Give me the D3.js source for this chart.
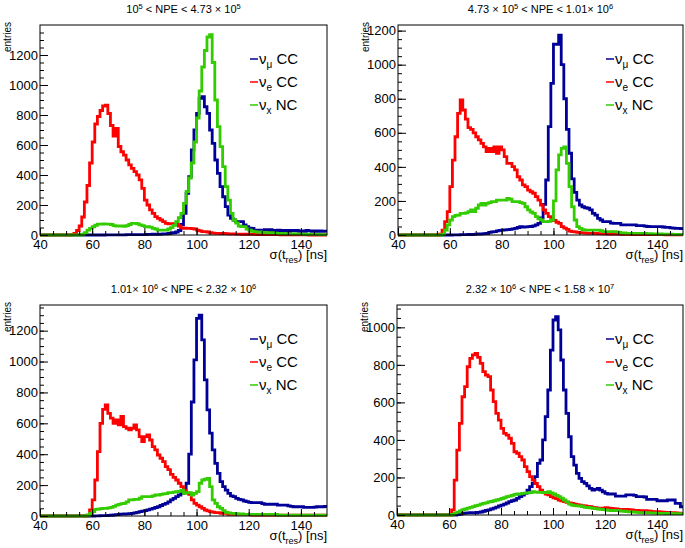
<!DOCTYPE html>
<html>
<head>
<meta charset="UTF-8">
<title>sigma(t_res) per NPE bin</title>
<style>
    body { margin: 0; padding: 0; background: #fff; }
    svg { display: block; font-family: 'Liberation Sans', Arial, Helvetica, sans-serif; }
    .tick line { stroke: #000; stroke-width: 1px; }
    .hist { fill: none; stroke-width: 2.8px; stroke-linejoin: miter; }
</style>
</head>
<body>
<svg></svg>
<script src="https://d3js.org/d3.v7.min.js"></script>
<script>

// histogram bins: 1 ns wide, left edges 40 .. 149
let binStart = 40, binEnd = 150;

// panel titles (^n = superscript)
let titles = [
    "10^5 < NPE < 4.73 × 10^5",
    "4.73 × 10^5 < NPE < 1.01× 10^6",
    "1.01× 10^6 < NPE < 2.32 × 10^6",
    "2.32 × 10^6 < NPE < 1.58 × 10^7"
];
let yMax = [1400, 1233, 1366, 1119];
let xTicks = [40, 60, 80, 100, 120, 140];

let legendNames = [["ν", "μ", " CC"], ["ν", "e", " CC"], ["ν", "x", " NC"]];
let colors = ["#000099", "#ff0000", "#33cc00"];

// panel 1 : 1e5 < NPE < 4.73e5
let numu1 = [
    0,0,0,0,0,0,0,0,0,0,
    0,0,0,0,0,0,0,0,0,0,
    0,0,0,0,0,1,1,1,1,1,
    1,1,1,2,2,2,2,3,3,3,
    3,4,4,5,5,5,6,7,8,10,
    12,15,20,30,70,144,278,389,567,700,
    811,911,922,855,811,700,611,500,411,322,
    255,189,133,111,100,89,89,89,67,56,
    45,44,33,33,33,33,35,30,35,30,
    30,32,28,30,30,25,30,28,30,25,
    28,25,30,28,25,27,25,28,25,26];
let nue1 = [
    0,0,0,0,0,0,0,0,0,0,
    0,0,3,10,30,60,120,220,330,480,
    620,740,790,830,860,865,810,730,660,710,
    590,555,533,500,467,444,422,400,367,311,
    233,200,167,144,122,111,100,89,78,75,
    75,72,70,60,48,45,44,44,42,40,
    33,28,22,22,20,15,12,11,11,10,
    10,9,8,8,7,6,6,5,5,5,
    4,4,4,3,3,3,3,2,2,2,
    2,2,1,1,1,1,1,1,1,1,
    1,1,1,0,0,0,0,0,0,0];
let nc1 = [
    0,0,0,0,0,0,0,0,0,0,
    0,0,0,0,0,0,5,15,33,44,
    55,65,72,73,74,73,72,70,62,60,
    60,60,58,62,70,78,78,75,67,62,
    56,55,52,44,40,33,33,33,33,40,
    49,64,89,115,144,211,290,380,480,620,
    780,960,1120,1230,1320,1335,1150,900,722,589,
    456,322,233,144,100,80,60,56,56,40,
    33,25,22,20,20,18,18,15,15,15,
    12,10,10,10,8,8,8,7,7,6,
    6,5,5,5,4,4,4,3,3,3];

// panel 2 : 4.73e5 < NPE < 1.01e6
let numu2 = [
    0,0,0,0,0,0,0,0,0,0,
    0,0,0,0,0,0,0,0,0,0,
    0,1,1,1,2,2,2,3,3,4,
    5,6,7,8,10,15,18,20,24,27,
    29,30,32,33,36,39,44,49,47,48,
    49,50,53,60,68,100,180,323,636,890,
    1120,1120,1174,1000,800,620,480,330,250,205,
    176,166,160,157,147,127,117,98,88,78,
    78,78,70,68,68,68,59,59,59,59,
    59,59,55,55,55,52,50,49,49,49,
    49,49,47,45,45,42,40,39,39,38];
let nue2 = [
    0,0,0,0,0,0,0,0,0,0,
    0,0,0,0,0,0,5,29,78,137,
    284,440,577,714,793,734,680,630,620,600,
    577,558,538,518,489,509,489,518,480,518,
    500,460,420,420,401,382,342,323,294,284,
    264,254,245,225,205,176,147,127,108,98,
    85,75,68,49,40,33,23,20,18,16,
    14,12,11,10,10,9,9,8,8,7,
    7,6,6,5,5,5,4,4,4,4,
    3,3,3,3,2,2,2,2,2,2,
    2,2,2,1,1,1,1,1,1,1];
let nc2 = [
    0,0,0,0,0,0,0,0,0,0,
    0,0,0,0,0,0,0,5,29,60,
    88,108,115,117,127,127,130,137,147,137,
    157,176,186,176,186,190,196,196,205,205,
    205,205,215,210,196,196,196,190,186,166,
    147,135,127,108,95,88,78,78,80,88,
    200,382,470,509,518,420,284,166,88,49,
    39,32,29,29,29,29,29,29,25,20,
    20,20,20,20,18,15,12,12,10,10,
    10,10,10,10,9,9,8,8,7,7,
    6,6,5,5,5,5,4,4,4,4];

// panel 3 : 1.01e6 < NPE < 2.32e6
let numu3 = [
    0,0,0,0,0,0,0,0,0,0,
    0,0,0,0,0,0,0,0,0,0,
    0,1,1,2,2,3,4,5,7,9,
    11,12,13,14,15,17,20,24,28,32,
    35,40,45,50,55,60,68,75,82,92,
    104,114,125,136,147,168,212,400,738,1011,
    1280,1300,1140,881,687,536,428,341,276,222,
    190,168,147,130,125,114,108,104,97,93,
    88,86,86,86,86,80,76,76,76,76,
    76,71,71,71,71,65,62,60,60,60,
    60,56,56,56,56,58,60,60,60,62];
let nue3 = [
    0,0,0,0,0,0,0,0,0,0,
    0,0,0,0,0,0,0,0,5,39,
    104,233,417,600,690,719,665,633,600,622,
    590,644,579,568,557,568,590,557,514,482,
    514,525,492,449,428,395,374,352,320,300,
    270,250,233,212,190,168,150,140,104,82,
    70,60,50,39,33,28,25,22,22,17,
    17,17,11,11,11,11,11,11,11,11,
    11,6,6,6,6,6,6,6,6,6,
    6,6,6,6,6,6,6,6,6,6,
    6,6,6,6,6,6,6,6,6,6];
let nc3 = [
    0,0,0,0,0,0,0,0,0,0,
    0,0,0,0,0,0,0,0,5,17,
    28,43,45,48,50,50,52,56,62,71,
    75,80,82,92,104,104,108,108,115,125,
    125,125,125,130,136,136,140,143,145,151,
    151,155,158,160,168,147,151,151,136,147,
    158,212,233,238,244,190,104,82,60,50,
    35,24,20,17,17,15,13,13,10,10,
    10,10,10,10,10,10,10,10,10,10,
    10,6,6,6,6,6,6,6,6,6,
    6,6,6,6,6,6,6,6,6,6];

// panel 4 : 2.32e6 < NPE < 1.58e7
let numu4 = [
    0,0,0,0,0,0,0,0,0,0,
    0,0,0,0,0,0,0,0,0,0,
    0,0,0,2,5,9,10,11,12,12,
    12,14,16,20,24,27,32,37,42,48,
    53,58,64,71,76,80,89,98,106,115,
    133,151,169,204,275,293,400,524,666,879,
    1039,1057,986,826,666,542,417,311,266,222,
    195,178,169,155,142,133,137,142,133,124,
    115,112,112,112,101,101,101,101,107,107,
    107,105,98,98,98,96,83,83,83,83,
    76,76,76,76,80,80,80,62,62,44];
let nue4 = [
    0,0,0,0,0,0,0,0,0,0,
    0,0,0,0,0,0,0,0,0,0,
    0,27,186,346,488,630,684,790,835,853,
    861,840,808,764,746,737,666,604,542,506,
    462,435,426,409,382,337,329,311,293,258,
    231,204,186,169,151,133,119,112,107,98,
    92,87,80,75,71,68,65,62,58,55,
    53,50,48,46,44,41,39,37,36,37,
    39,37,35,34,32,30,30,30,30,28,
    27,25,24,23,23,23,22,20,18,18,
    18,17,15,14,14,13,12,11,10,9];
let nc4 = [
    0,0,0,0,0,0,0,0,0,0,
    0,0,0,0,0,0,0,0,0,0,
    0,3,10,15,22,28,32,37,41,45,
    50,53,58,62,65,70,72,76,80,83,
    88,92,98,101,105,110,112,113,115,117,
    118,119,124,122,121,121,120,119,124,118,
    112,105,98,90,80,70,58,53,50,49,
    48,45,41,40,38,36,34,32,30,29,
    27,25,24,24,23,23,21,20,18,17,
    16,15,14,13,13,12,12,11,10,10,
    9,9,9,8,8,8,7,7,7,7];

let hists = [
    [numu1, nue1, nc1],
    [numu2, nue2, nc2],
    [numu3, nue3, nc3],
    [numu4, nue4, nc4]
];

// frames of the four pads
let frames = [
    {x0: 40,  x1: 327, y0: 25,  y1: 235},
    {x0: 398, x1: 683, y0: 25,  y1: 235},
    {x0: 40,  x1: 327, y0: 305, y1: 516},
    {x0: 397, x1: 683, y0: 305, y1: 515}
];

let w = 685, h = 548;
let svg = d3.select("svg").attr("width", w).attr("height", h);
svg.append("rect").attr("width", w).attr("height", h).attr("fill", "#fff");

// text made of tspans (for sub/superscripts)
function richText(sel, parts) {
    parts.forEach(p => {
        let t = sel.append("tspan").text(p.t);
        if (p.dy) t.attr("dy", p.dy);
        if (p.size) t.attr("font-size", p.size);
    });
}

frames.forEach((f, i) => {
    let g = svg.append("g");
    let x = d3.scaleLinear().domain([binStart, binEnd]).range([f.x0, f.x1]);
    let y = d3.scaleLinear().domain([0, yMax[i]]).range([f.y1, f.y0]);

    // histograms (drawn first, frame + ticks on top)
    let line = d3.line()
        .x(d => x(d[0]))
        .y(d => y(d[1]))
        .curve(d3.curveStepAfter);
    [0, 1, 2].forEach(k => {
        let vals = hists[i][k];
        let pts = vals.map((v, j) => [binStart + j, v]);
        pts.push([binEnd, vals[vals.length - 1]]);
        g.append("path")
            .attr("class", "hist")
            .attr("stroke", colors[k])
            .attr("d", line(pts));
    });

    // minor ticks
    g.append("g")
        .attr("transform", `translate(${f.x0},0)`)
        .call(d3.axisLeft(y).tickValues(d3.range(0, yMax[i], 50)).tickSize(-4).tickSizeOuter(0).tickFormat(""))
        .call(a => a.select(".domain").remove());
    g.append("g")
        .attr("transform", `translate(0,${f.y1})`)
        .call(d3.axisBottom(x).tickValues(d3.range(binStart, binEnd, 5)).tickSize(-4).tickSizeOuter(0).tickFormat(""))
        .call(a => a.select(".domain").remove());

    // major ticks + labels
    g.append("g")
        .attr("transform", `translate(${f.x0},0)`)
        .call(d3.axisLeft(y).tickValues(d3.range(0, yMax[i], 200)).tickSize(-8).tickSizeOuter(0).tickPadding(2).tickFormat(d3.format("d")))
        .attr("font-size", 13).attr("font-family", null)
        .call(a => a.select(".domain").remove());
    g.append("g")
        .attr("transform", `translate(0,${f.y1})`)
        .call(d3.axisBottom(x).tickValues(xTicks).tickSize(-7).tickSizeOuter(0).tickPadding(5).tickFormat(d3.format("d")))
        .attr("font-size", 13).attr("font-family", null)
        .call(a => a.select(".domain").remove());

    // frame
    g.append("rect")
        .attr("x", f.x0).attr("y", f.y0)
        .attr("width", f.x1 - f.x0).attr("height", f.y1 - f.y0)
        .attr("fill", "none").attr("stroke", "#000").attr("stroke-width", 1);

    // title
    let parts = [];
    titles[i].split(/\^(\d)/).forEach((s, j) => {
        if (j % 2 == 1) parts.push({t: s, dy: -4, size: 7.5});
        else if (s.length) parts.push({t: s, dy: j > 0 ? 4 : 0, size: 11});
    });
    let title = g.append("text")
        .attr("x", (f.x0 + f.x1) / 2).attr("y", f.y0 - 12)
        .attr("text-anchor", "middle").attr("font-size", 11);
    richText(title, parts);

    // y title
    g.append("text")
        .attr("transform", `translate(${f.x0 - 29},${f.y0 - 3}) rotate(-90)`)
        .attr("text-anchor", "end")
        .attr("font-size", 10)
        .text("entries");

    // x title
    let xt = g.append("text")
        .attr("x", f.x1).attr("y", f.y1 + 24)
        .attr("text-anchor", "end").attr("font-size", 13);
    richText(xt, [{t: "σ(t"}, {t: "res", dy: 4, size: 9}, {t: ") [ns]", dy: -4, size: 13}]);

    // legend
    legendNames.forEach((n, k) => {
        let by = f.y0 + 39 + 23 * k;
        let lx = f.x1 - 77;
        g.append("line")
            .attr("x1", lx).attr("x2", lx + 8)
            .attr("y1", by - 5).attr("y2", by - 5)
            .attr("stroke", colors[k]).attr("stroke-width", 1.5);
        let t = g.append("text")
            .attr("x", lx + 9).attr("y", by)
            .attr("font-size", 15);
        richText(t, [{t: n[0]}, {t: n[1], dy: 4, size: 10}, {t: n[2], dy: -4, size: 15}]);
    });
});

</script>
</body>
</html>
